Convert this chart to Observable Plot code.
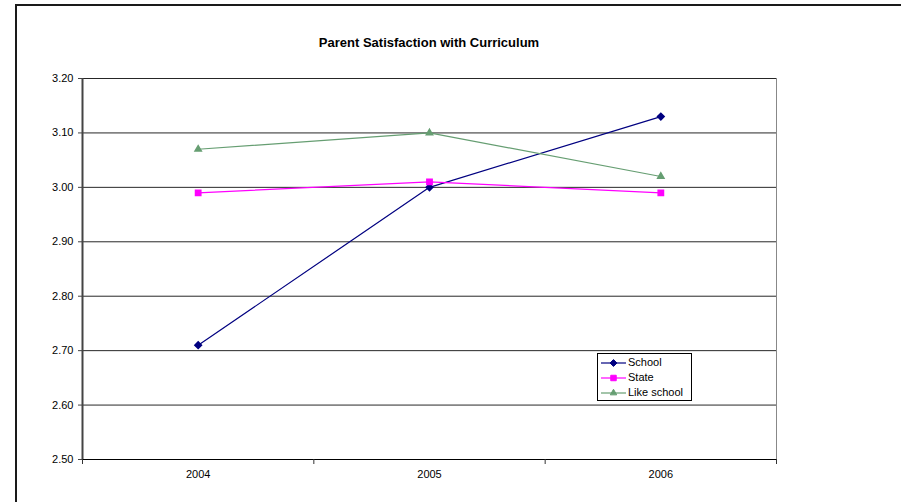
<!DOCTYPE html>
<html>
<head>
<meta charset="utf-8">
<script src="https://cdn.jsdelivr.net/npm/d3@7"></script>
<script src="https://cdn.jsdelivr.net/npm/@observablehq/plot@0.6"></script>
<style>
  html, body { margin: 0; padding: 0; background: #fff; }
  body { width: 901px; height: 502px; position: relative; overflow: hidden; font-family: "Liberation Sans", Arial, sans-serif; }
  #frame { position: absolute; left: 15px; top: 4px; width: 900px; height: 520px; border-top: 2px solid #1a1a1a; border-left: 2px solid #1a1a1a; }
  #title { position: absolute; left: 82px; width: 694px; top: 35px; text-align: center; font-weight: bold; font-size: 13px; color: #000; }
  #chart { position: absolute; left: 0; top: 0; }
  #legend { position: absolute; left: 597px; top: 353px; width: 95px; height: 48px; box-sizing: border-box; border: 1px solid #000; background: #fff; padding-top: 1px; }
  .row { height: 15px; line-height: 15px; font-size: 11px; display: flex; align-items: center; }
  .row svg { margin-left: 3px; margin-right: 2px; }
</style>
</head>
<body>
<div id="frame"></div>
<div id="title">Parent Satisfaction with Curriculum</div>
<div id="chart"></div>
<div id="legend"></div>
<script>
const years = [2004, 2005, 2006];
const school = [2.71, 3.00, 3.13];
const state = [2.99, 3.01, 2.99];
const likeSchool = [3.07, 3.10, 3.02];
const yTicks = [2.5, 2.6, 2.7, 2.8, 2.9, 3.0, 3.1, 3.2];
const seriesNames = ["School", "State", "Like school"];
const seriesColors = ["#000080", "#ff00ff", "#669e72"];
const seriesSymbols = ["diamond2", "square", "triangle2"];

const xBounds = [years[0] - 0.5, ...years.map(y => y + 0.5)];

const rows = [];
[school, state, likeSchool].forEach((vals, i) => {
  vals.forEach((v, j) => rows.push({series: seriesNames[i], year: years[j], value: v}));
});

const plot = Plot.plot({
  width: 901,
  height: 502,
  marginLeft: 82,
  marginRight: 125,
  marginTop: 78,
  marginBottom: 43,
  style: {fontFamily: "'Liberation Sans', Arial, sans-serif", fontSize: "11px", background: "transparent", color: "#000"},
  x: {type: "linear", domain: [xBounds[0], xBounds[xBounds.length - 1]]},
  y: {domain: [2.5, 3.2]},
  color: {domain: seriesNames, range: seriesColors},
  symbol: {domain: seriesNames, range: seriesSymbols},
  marks: [
    Plot.gridY(yTicks, {stroke: "#000", strokeOpacity: 0.85}),
    Plot.ruleX([xBounds[xBounds.length - 1]], {stroke: "#888", strokeWidth: 1}),
    Plot.ruleX([xBounds[0]], {stroke: "#444", strokeWidth: 2}),
    Plot.ruleY([2.5], {stroke: "#000"}),
    Plot.axisY(yTicks, {tickSize: 4, tickPadding: 5, tickFormat: d => d.toFixed(2), label: null, stroke: "#444"}),
    Plot.axisX(xBounds, {tickSize: 5, tickFormat: () => "", label: null, stroke: "#333"}),
    Plot.axisX(years, {tickSize: 0, tickPadding: 11, tickFormat: d => String(d), label: null}),
    Plot.line(rows, {x: "year", y: "value", z: "series", stroke: "series", strokeWidth: 1.2}),
    Plot.dot(rows, {x: "year", y: "value", symbol: "series", fill: "series", stroke: "series", r: 3})
  ]
});
document.getElementById("chart").appendChild(plot);

const legend = document.getElementById("legend");
seriesNames.forEach((name, i) => {
  const row = document.createElement("div");
  row.className = "row";
  const s = d3.create("svg").attr("width", 25).attr("height", 10);
  s.append("line").attr("x1", 0).attr("x2", 25).attr("y1", 5).attr("y2", 5)
    .attr("stroke", seriesColors[i]).attr("stroke-width", 1.2);
  const sym = {diamond2: d3.symbolDiamond2, square: d3.symbolSquare, triangle2: d3.symbolTriangle2}[seriesSymbols[i]];
  s.append("path").attr("d", d3.symbol(sym, 30)()).attr("transform", "translate(12.5,5)")
    .attr("fill", seriesColors[i]).attr("stroke", seriesColors[i]);
  row.appendChild(s.node());
  const t = document.createElement("span");
  t.textContent = name;
  row.appendChild(t);
  legend.appendChild(row);
});
</script>
</body>
</html>
